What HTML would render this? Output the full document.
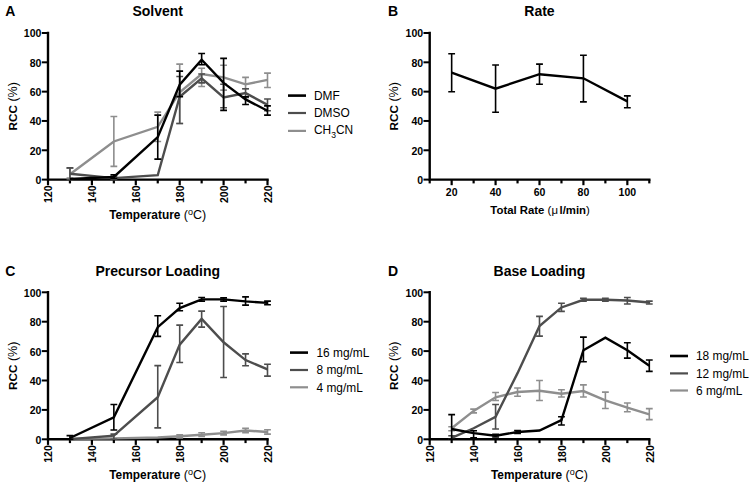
<!DOCTYPE html>
<html><head><meta charset="utf-8"><style>
html,body{margin:0;padding:0;background:#fff;}
svg{display:block;}
text{font-family:"Liberation Sans", sans-serif;fill:#000;}
.tk{font-size:10.5px;font-weight:bold;}
.ti{font-size:14px;font-weight:bold;}
.al{font-size:11.7px;font-weight:bold;}
.lg{font-size:11.9px;}
</style></head><body>
<svg width="754" height="487" viewBox="0 0 754 487">
<rect width="754" height="487" fill="#fff"/>
<path d="M48,33.0V179.6H267.5" fill="none" stroke="#000" stroke-width="2.4" stroke-linecap="square"/>
<path d="M41.8,179.60H48" stroke="#000" stroke-width="2"/>
<text x="41.4" y="184.00" text-anchor="end" class="tk">0</text>
<path d="M41.8,150.28H48" stroke="#000" stroke-width="2"/>
<text x="41.4" y="154.68" text-anchor="end" class="tk">20</text>
<path d="M41.8,120.96H48" stroke="#000" stroke-width="2"/>
<text x="41.4" y="125.36" text-anchor="end" class="tk">40</text>
<path d="M41.8,91.64H48" stroke="#000" stroke-width="2"/>
<text x="41.4" y="96.04" text-anchor="end" class="tk">60</text>
<path d="M41.8,62.32H48" stroke="#000" stroke-width="2"/>
<text x="41.4" y="66.72" text-anchor="end" class="tk">80</text>
<path d="M41.8,33.00H48" stroke="#000" stroke-width="2"/>
<text x="41.4" y="37.40" text-anchor="end" class="tk">100</text>
<path d="M48.00,179.6V185.2" stroke="#000" stroke-width="2.2"/>
<text transform="translate(52.40,185.5) rotate(-90)" text-anchor="end" class="tk">120</text>
<path d="M69.95,179.6V183.4" stroke="#000" stroke-width="2.2"/>
<path d="M91.90,179.6V185.2" stroke="#000" stroke-width="2.2"/>
<text transform="translate(96.30,185.5) rotate(-90)" text-anchor="end" class="tk">140</text>
<path d="M113.85,179.6V183.4" stroke="#000" stroke-width="2.2"/>
<path d="M135.80,179.6V185.2" stroke="#000" stroke-width="2.2"/>
<text transform="translate(140.20,185.5) rotate(-90)" text-anchor="end" class="tk">160</text>
<path d="M157.75,179.6V183.4" stroke="#000" stroke-width="2.2"/>
<path d="M179.70,179.6V185.2" stroke="#000" stroke-width="2.2"/>
<text transform="translate(184.10,185.5) rotate(-90)" text-anchor="end" class="tk">180</text>
<path d="M201.65,179.6V183.4" stroke="#000" stroke-width="2.2"/>
<path d="M223.60,179.6V185.2" stroke="#000" stroke-width="2.2"/>
<text transform="translate(228.00,185.5) rotate(-90)" text-anchor="end" class="tk">200</text>
<path d="M245.55,179.6V183.4" stroke="#000" stroke-width="2.2"/>
<path d="M267.50,179.6V185.2" stroke="#000" stroke-width="2.2"/>
<text transform="translate(271.90,185.5) rotate(-90)" text-anchor="end" class="tk">220</text>
<path d="M69.95,174.32 L113.85,141.48 L157.75,126.82 L179.70,92.23 L201.65,74.05 L223.60,77.42 L245.55,84.31 L267.50,79.91" fill="none" stroke="#8e8e8e" stroke-width="2.4" stroke-linejoin="miter" stroke-miterlimit="10"/>
<path d="M69.95,168.17V178.13M66.55,168.17H73.35M66.55,178.13H73.35" fill="none" stroke="#8e8e8e" stroke-width="1.6"/>
<path d="M113.85,116.56V166.41M110.45,116.56H117.25M110.45,166.41H117.25" fill="none" stroke="#8e8e8e" stroke-width="1.6"/>
<path d="M157.75,112.16V141.48M154.35,112.16H161.15M154.35,141.48H161.15" fill="none" stroke="#8e8e8e" stroke-width="1.6"/>
<path d="M179.70,64.08V123.45M176.30,64.08H183.10M176.30,123.45H183.10" fill="none" stroke="#8e8e8e" stroke-width="1.6"/>
<path d="M201.65,68.18V86.51M198.25,68.18H205.05M198.25,86.51H205.05" fill="none" stroke="#8e8e8e" stroke-width="1.6"/>
<path d="M223.60,65.25V90.17M220.20,65.25H227.00M220.20,90.17H227.00" fill="none" stroke="#8e8e8e" stroke-width="1.6"/>
<path d="M245.55,77.42V88.71M242.15,77.42H248.95M242.15,88.71H248.95" fill="none" stroke="#8e8e8e" stroke-width="1.6"/>
<path d="M267.50,73.17V87.54M264.10,73.17H270.90M264.10,87.54H270.90" fill="none" stroke="#8e8e8e" stroke-width="1.6"/>
<path d="M69.95,173.74 L113.85,178.13 L157.75,175.20 L179.70,96.77 L201.65,78.45 L223.60,97.50 L245.55,93.11 L267.50,104.83" fill="none" stroke="#4d4d4d" stroke-width="2.4" stroke-linejoin="miter" stroke-miterlimit="10"/>
<path d="M69.95,167.87V179.60M66.55,167.87H73.35M66.55,179.60H73.35" fill="none" stroke="#4d4d4d" stroke-width="1.6"/>
<path d="M113.85,176.67V179.60M110.45,176.67H117.25M110.45,179.60H117.25" fill="none" stroke="#4d4d4d" stroke-width="1.6"/>
<path d="M179.70,76.54V123.45M176.30,76.54H183.10M176.30,123.45H183.10" fill="none" stroke="#4d4d4d" stroke-width="1.6"/>
<path d="M201.65,74.05V82.84M198.25,74.05H205.05M198.25,82.84H205.05" fill="none" stroke="#4d4d4d" stroke-width="1.6"/>
<path d="M223.60,84.31V107.77M220.20,84.31H227.00M220.20,107.77H227.00" fill="none" stroke="#4d4d4d" stroke-width="1.6"/>
<path d="M245.55,88.71V97.50M242.15,88.71H248.95M242.15,97.50H248.95" fill="none" stroke="#4d4d4d" stroke-width="1.6"/>
<path d="M267.50,98.97V110.70M264.10,98.97H270.90M264.10,110.70H270.90" fill="none" stroke="#4d4d4d" stroke-width="1.6"/>
<path d="M69.95,178.87 L113.85,176.96 L157.75,137.09 L179.70,84.75 L201.65,59.68 L223.60,82.84 L245.55,99.41 L267.50,110.70" fill="none" stroke="#000" stroke-width="2.4" stroke-linejoin="miter" stroke-miterlimit="10"/>
<path d="M113.85,174.91V178.43M110.45,174.91H117.25M110.45,178.43H117.25" fill="none" stroke="#000" stroke-width="1.6"/>
<path d="M157.75,115.10V159.08M154.35,115.10H161.15M154.35,159.08H161.15" fill="none" stroke="#000" stroke-width="1.6"/>
<path d="M179.70,71.12V96.62M176.30,71.12H183.10M176.30,96.62H183.10" fill="none" stroke="#000" stroke-width="1.6"/>
<path d="M201.65,53.52V64.81M198.25,53.52H205.05M198.25,64.81H205.05" fill="none" stroke="#000" stroke-width="1.6"/>
<path d="M223.60,58.36V110.40M220.20,58.36H227.00M220.20,110.40H227.00" fill="none" stroke="#000" stroke-width="1.6"/>
<path d="M245.55,96.77V104.54M242.15,96.77H248.95M242.15,104.54H248.95" fill="none" stroke="#000" stroke-width="1.6"/>
<path d="M267.50,105.86V115.10M264.10,105.86H270.90M264.10,115.10H270.90" fill="none" stroke="#000" stroke-width="1.6"/>
<text x="157.75" y="15.8" text-anchor="middle" class="ti">Solvent</text>
<text x="5.2" y="15.8" class="ti">A</text>
<text transform="translate(16.5,106.30) rotate(-90)" text-anchor="middle" class="al">RCC<tspan font-weight="normal" font-size="12.5"> (%)</tspan></text>
<text x="157.75" y="218.8" text-anchor="middle" class="al"><tspan font-size="11.9">Temperature</tspan><tspan font-weight="normal" font-size="12.5"> (<tspan dy="-4.2" font-size="9">o</tspan><tspan dy="4.2">C)</tspan></tspan></text>
<path d="M288,95.6H306" stroke="#000" stroke-width="2.6"/>
<text x="314" y="99.90" class="lg">DMF</text>
<path d="M288,113H306" stroke="#4d4d4d" stroke-width="2.2"/>
<text x="314" y="117.20" class="lg">DMSO</text>
<path d="M288,130.9H306" stroke="#8e8e8e" stroke-width="2.2"/>
<text x="314" y="133.80" class="lg">CH<tspan dy="4" font-size="8.6">3</tspan><tspan dy="-4">CN</tspan></text>
<path d="M429.7,33.0V179.6H649.3" fill="none" stroke="#000" stroke-width="2.4" stroke-linecap="square"/>
<path d="M423.5,179.60H429.7" stroke="#000" stroke-width="2"/>
<text x="423.09999999999997" y="184.00" text-anchor="end" class="tk">0</text>
<path d="M423.5,150.28H429.7" stroke="#000" stroke-width="2"/>
<text x="423.09999999999997" y="154.68" text-anchor="end" class="tk">20</text>
<path d="M423.5,120.96H429.7" stroke="#000" stroke-width="2"/>
<text x="423.09999999999997" y="125.36" text-anchor="end" class="tk">40</text>
<path d="M423.5,91.64H429.7" stroke="#000" stroke-width="2"/>
<text x="423.09999999999997" y="96.04" text-anchor="end" class="tk">60</text>
<path d="M423.5,62.32H429.7" stroke="#000" stroke-width="2"/>
<text x="423.09999999999997" y="66.72" text-anchor="end" class="tk">80</text>
<path d="M423.5,33.00H429.7" stroke="#000" stroke-width="2"/>
<text x="423.09999999999997" y="37.40" text-anchor="end" class="tk">100</text>
<path d="M429.70,179.6V183.4" stroke="#000" stroke-width="2.2"/>
<path d="M451.66,179.6V185.2" stroke="#000" stroke-width="2.2"/>
<text x="451.66" y="195.9" text-anchor="middle" class="tk">20</text>
<path d="M473.62,179.6V183.4" stroke="#000" stroke-width="2.2"/>
<path d="M495.58,179.6V185.2" stroke="#000" stroke-width="2.2"/>
<text x="495.58" y="195.9" text-anchor="middle" class="tk">40</text>
<path d="M517.54,179.6V183.4" stroke="#000" stroke-width="2.2"/>
<path d="M539.50,179.6V185.2" stroke="#000" stroke-width="2.2"/>
<text x="539.50" y="195.9" text-anchor="middle" class="tk">60</text>
<path d="M561.46,179.6V183.4" stroke="#000" stroke-width="2.2"/>
<path d="M583.42,179.6V185.2" stroke="#000" stroke-width="2.2"/>
<text x="583.42" y="195.9" text-anchor="middle" class="tk">80</text>
<path d="M605.38,179.6V183.4" stroke="#000" stroke-width="2.2"/>
<path d="M627.34,179.6V185.2" stroke="#000" stroke-width="2.2"/>
<text x="627.34" y="195.9" text-anchor="middle" class="tk">100</text>
<path d="M649.30,179.6V183.4" stroke="#000" stroke-width="2.2"/>
<path d="M451.66,72.73 L495.58,88.71 L539.50,74.19 L583.42,78.30 L627.34,101.32" fill="none" stroke="#000" stroke-width="2.4" stroke-linejoin="miter" stroke-miterlimit="10"/>
<path d="M451.66,53.82V91.79M448.26,53.82H455.06M448.26,91.79H455.06" fill="none" stroke="#000" stroke-width="1.6"/>
<path d="M495.58,64.96V112.31M492.18,64.96H498.98M492.18,112.31H498.98" fill="none" stroke="#000" stroke-width="1.6"/>
<path d="M539.50,64.08V84.31M536.10,64.08H542.90M536.10,84.31H542.90" fill="none" stroke="#000" stroke-width="1.6"/>
<path d="M583.42,55.28V101.90M580.02,55.28H586.82M580.02,101.90H586.82" fill="none" stroke="#000" stroke-width="1.6"/>
<path d="M627.34,95.89V107.77M623.94,95.89H630.74M623.94,107.77H630.74" fill="none" stroke="#000" stroke-width="1.6"/>
<text x="539.50" y="15.8" text-anchor="middle" class="ti">Rate</text>
<text x="388.1" y="15.8" class="ti">B</text>
<text transform="translate(398.2,106.30) rotate(-90)" text-anchor="middle" class="al">RCC<tspan font-weight="normal" font-size="12.5"> (%)</tspan></text>
<text x="540.10" y="214.2" text-anchor="middle" class="al" textLength="99.5" lengthAdjust="spacingAndGlyphs">Total Rate <tspan font-weight="normal">(&#956;</tspan><tspan dx="1.6">l/min</tspan><tspan font-weight="normal">)</tspan></text>
<path d="M48,292.3V439.3H267.5" fill="none" stroke="#000" stroke-width="2.4" stroke-linecap="square"/>
<path d="M41.8,439.30H48" stroke="#000" stroke-width="2"/>
<text x="41.4" y="443.70" text-anchor="end" class="tk">0</text>
<path d="M41.8,409.90H48" stroke="#000" stroke-width="2"/>
<text x="41.4" y="414.30" text-anchor="end" class="tk">20</text>
<path d="M41.8,380.50H48" stroke="#000" stroke-width="2"/>
<text x="41.4" y="384.90" text-anchor="end" class="tk">40</text>
<path d="M41.8,351.10H48" stroke="#000" stroke-width="2"/>
<text x="41.4" y="355.50" text-anchor="end" class="tk">60</text>
<path d="M41.8,321.70H48" stroke="#000" stroke-width="2"/>
<text x="41.4" y="326.10" text-anchor="end" class="tk">80</text>
<path d="M41.8,292.30H48" stroke="#000" stroke-width="2"/>
<text x="41.4" y="296.70" text-anchor="end" class="tk">100</text>
<path d="M48.00,439.3V444.90000000000003" stroke="#000" stroke-width="2.2"/>
<text transform="translate(52.40,445.2) rotate(-90)" text-anchor="end" class="tk">120</text>
<path d="M69.95,439.3V443.1" stroke="#000" stroke-width="2.2"/>
<path d="M91.90,439.3V444.90000000000003" stroke="#000" stroke-width="2.2"/>
<text transform="translate(96.30,445.2) rotate(-90)" text-anchor="end" class="tk">140</text>
<path d="M113.85,439.3V443.1" stroke="#000" stroke-width="2.2"/>
<path d="M135.80,439.3V444.90000000000003" stroke="#000" stroke-width="2.2"/>
<text transform="translate(140.20,445.2) rotate(-90)" text-anchor="end" class="tk">160</text>
<path d="M157.75,439.3V443.1" stroke="#000" stroke-width="2.2"/>
<path d="M179.70,439.3V444.90000000000003" stroke="#000" stroke-width="2.2"/>
<text transform="translate(184.10,445.2) rotate(-90)" text-anchor="end" class="tk">180</text>
<path d="M201.65,439.3V443.1" stroke="#000" stroke-width="2.2"/>
<path d="M223.60,439.3V444.90000000000003" stroke="#000" stroke-width="2.2"/>
<text transform="translate(228.00,445.2) rotate(-90)" text-anchor="end" class="tk">200</text>
<path d="M245.55,439.3V443.1" stroke="#000" stroke-width="2.2"/>
<path d="M267.50,439.3V444.90000000000003" stroke="#000" stroke-width="2.2"/>
<text transform="translate(271.90,445.2) rotate(-90)" text-anchor="end" class="tk">220</text>
<path d="M69.95,438.86 L113.85,438.42 L157.75,437.54 L179.70,436.21 L201.65,434.74 L223.60,433.13 L245.55,430.48 L267.50,431.95" fill="none" stroke="#8e8e8e" stroke-width="2.4" stroke-linejoin="miter" stroke-miterlimit="10"/>
<path d="M179.70,434.89V437.83M176.30,434.89H183.10M176.30,437.83H183.10" fill="none" stroke="#8e8e8e" stroke-width="1.6"/>
<path d="M201.65,432.69V436.36M198.25,432.69H205.05M198.25,436.36H205.05" fill="none" stroke="#8e8e8e" stroke-width="1.6"/>
<path d="M223.60,431.22V434.89M220.20,431.22H227.00M220.20,434.89H227.00" fill="none" stroke="#8e8e8e" stroke-width="1.6"/>
<path d="M245.55,428.28V432.69M242.15,428.28H248.95M242.15,432.69H248.95" fill="none" stroke="#8e8e8e" stroke-width="1.6"/>
<path d="M267.50,429.75V434.16M264.10,429.75H270.90M264.10,434.16H270.90" fill="none" stroke="#8e8e8e" stroke-width="1.6"/>
<path d="M69.95,439.30 L113.85,435.62 L157.75,397.26 L179.70,344.63 L201.65,318.91 L223.60,342.28 L245.55,360.07 L267.50,369.33" fill="none" stroke="#4d4d4d" stroke-width="2.4" stroke-linejoin="miter" stroke-miterlimit="10"/>
<path d="M113.85,434.16V439.30M110.45,434.16H117.25M110.45,439.30H117.25" fill="none" stroke="#4d4d4d" stroke-width="1.6"/>
<path d="M157.75,365.65V427.83M154.35,365.65H161.15M154.35,427.83H161.15" fill="none" stroke="#4d4d4d" stroke-width="1.6"/>
<path d="M179.70,325.08V362.57M176.30,325.08H183.10M176.30,362.57H183.10" fill="none" stroke="#4d4d4d" stroke-width="1.6"/>
<path d="M201.65,311.12V327.14M198.25,311.12H205.05M198.25,327.14H205.05" fill="none" stroke="#4d4d4d" stroke-width="1.6"/>
<path d="M223.60,306.56V377.56M220.20,306.56H227.00M220.20,377.56H227.00" fill="none" stroke="#4d4d4d" stroke-width="1.6"/>
<path d="M245.55,353.89V365.80M242.15,353.89H248.95M242.15,365.80H248.95" fill="none" stroke="#4d4d4d" stroke-width="1.6"/>
<path d="M267.50,364.18V376.09M264.10,364.18H270.90M264.10,376.09H270.90" fill="none" stroke="#4d4d4d" stroke-width="1.6"/>
<path d="M69.95,437.98 L113.85,417.25 L157.75,327.14 L179.70,308.03 L201.65,299.36 L223.60,299.36 L245.55,301.41 L267.50,302.88" fill="none" stroke="#000" stroke-width="2.4" stroke-linejoin="miter" stroke-miterlimit="10"/>
<path d="M69.95,435.62V439.30M66.55,435.62H73.35M66.55,439.30H73.35" fill="none" stroke="#000" stroke-width="1.6"/>
<path d="M113.85,404.46V430.04M110.45,404.46H117.25M110.45,430.04H117.25" fill="none" stroke="#000" stroke-width="1.6"/>
<path d="M157.75,315.82V336.40M154.35,315.82H161.15M154.35,336.40H161.15" fill="none" stroke="#000" stroke-width="1.6"/>
<path d="M179.70,303.18V310.68M176.30,303.18H183.10M176.30,310.68H183.10" fill="none" stroke="#000" stroke-width="1.6"/>
<path d="M201.65,297.45V301.12M198.25,297.45H205.05M198.25,301.12H205.05" fill="none" stroke="#000" stroke-width="1.6"/>
<path d="M223.60,297.89V301.12M220.20,297.89H227.00M220.20,301.12H227.00" fill="none" stroke="#000" stroke-width="1.6"/>
<path d="M245.55,296.86V305.09M242.15,296.86H248.95M242.15,305.09H248.95" fill="none" stroke="#000" stroke-width="1.6"/>
<path d="M267.50,301.12V304.80M264.10,301.12H270.90M264.10,304.80H270.90" fill="none" stroke="#000" stroke-width="1.6"/>
<text x="157.75" y="275.5" text-anchor="middle" class="ti">Precursor Loading</text>
<text x="5.2" y="275.5" class="ti">C</text>
<text transform="translate(16.5,365.80) rotate(-90)" text-anchor="middle" class="al">RCC<tspan font-weight="normal" font-size="12.5"> (%)</tspan></text>
<text x="157.75" y="479.0" text-anchor="middle" class="al"><tspan font-size="11.9">Temperature</tspan><tspan font-weight="normal" font-size="12.5"> (<tspan dy="-4.2" font-size="9">o</tspan><tspan dy="4.2">C)</tspan></tspan></text>
<path d="M290,352.6H308" stroke="#000" stroke-width="2.6"/>
<text x="316.5" y="356.80" class="lg">16 mg/mL</text>
<path d="M290,370H308" stroke="#4d4d4d" stroke-width="2.2"/>
<text x="316.5" y="374.20" class="lg">8 mg/mL</text>
<path d="M290,387.3H308" stroke="#8e8e8e" stroke-width="2.2"/>
<text x="316.5" y="391.50" class="lg">4 mg/mL</text>
<path d="M429.7,292.3V439.3H649.3" fill="none" stroke="#000" stroke-width="2.4" stroke-linecap="square"/>
<path d="M423.5,439.30H429.7" stroke="#000" stroke-width="2"/>
<text x="423.09999999999997" y="443.70" text-anchor="end" class="tk">0</text>
<path d="M423.5,409.90H429.7" stroke="#000" stroke-width="2"/>
<text x="423.09999999999997" y="414.30" text-anchor="end" class="tk">20</text>
<path d="M423.5,380.50H429.7" stroke="#000" stroke-width="2"/>
<text x="423.09999999999997" y="384.90" text-anchor="end" class="tk">40</text>
<path d="M423.5,351.10H429.7" stroke="#000" stroke-width="2"/>
<text x="423.09999999999997" y="355.50" text-anchor="end" class="tk">60</text>
<path d="M423.5,321.70H429.7" stroke="#000" stroke-width="2"/>
<text x="423.09999999999997" y="326.10" text-anchor="end" class="tk">80</text>
<path d="M423.5,292.30H429.7" stroke="#000" stroke-width="2"/>
<text x="423.09999999999997" y="296.70" text-anchor="end" class="tk">100</text>
<path d="M429.70,439.3V444.90000000000003" stroke="#000" stroke-width="2.2"/>
<text transform="translate(434.10,445.2) rotate(-90)" text-anchor="end" class="tk">120</text>
<path d="M451.66,439.3V443.1" stroke="#000" stroke-width="2.2"/>
<path d="M473.62,439.3V444.90000000000003" stroke="#000" stroke-width="2.2"/>
<text transform="translate(478.02,445.2) rotate(-90)" text-anchor="end" class="tk">140</text>
<path d="M495.58,439.3V443.1" stroke="#000" stroke-width="2.2"/>
<path d="M517.54,439.3V444.90000000000003" stroke="#000" stroke-width="2.2"/>
<text transform="translate(521.94,445.2) rotate(-90)" text-anchor="end" class="tk">160</text>
<path d="M539.50,439.3V443.1" stroke="#000" stroke-width="2.2"/>
<path d="M561.46,439.3V444.90000000000003" stroke="#000" stroke-width="2.2"/>
<text transform="translate(565.86,445.2) rotate(-90)" text-anchor="end" class="tk">180</text>
<path d="M583.42,439.3V443.1" stroke="#000" stroke-width="2.2"/>
<path d="M605.38,439.3V444.90000000000003" stroke="#000" stroke-width="2.2"/>
<text transform="translate(609.78,445.2) rotate(-90)" text-anchor="end" class="tk">200</text>
<path d="M627.34,439.3V443.1" stroke="#000" stroke-width="2.2"/>
<path d="M649.30,439.3V444.90000000000003" stroke="#000" stroke-width="2.2"/>
<text transform="translate(653.70,445.2) rotate(-90)" text-anchor="end" class="tk">220</text>
<path d="M451.66,428.28 L473.62,410.93 L495.58,397.26 L517.54,391.97 L539.50,390.79 L561.46,393.73 L583.42,391.08 L605.38,400.35 L627.34,407.69 L649.30,414.31" fill="none" stroke="#8e8e8e" stroke-width="2.4" stroke-linejoin="miter" stroke-miterlimit="10"/>
<path d="M451.66,426.81V430.77M448.26,426.81H455.06M448.26,430.77H455.06" fill="none" stroke="#8e8e8e" stroke-width="1.6"/>
<path d="M473.62,409.17V412.84M470.22,409.17H477.02M470.22,412.84H477.02" fill="none" stroke="#8e8e8e" stroke-width="1.6"/>
<path d="M495.58,392.55V400.49M492.18,392.55H498.98M492.18,400.49H498.98" fill="none" stroke="#8e8e8e" stroke-width="1.6"/>
<path d="M517.54,388.00V396.23M514.14,388.00H520.94M514.14,396.23H520.94" fill="none" stroke="#8e8e8e" stroke-width="1.6"/>
<path d="M539.50,380.50V400.49M536.10,380.50H542.90M536.10,400.49H542.90" fill="none" stroke="#8e8e8e" stroke-width="1.6"/>
<path d="M561.46,389.76V396.96M558.06,389.76H564.86M558.06,396.96H564.86" fill="none" stroke="#8e8e8e" stroke-width="1.6"/>
<path d="M583.42,384.91V396.96M580.02,384.91H586.82M580.02,396.96H586.82" fill="none" stroke="#8e8e8e" stroke-width="1.6"/>
<path d="M605.38,392.11V408.43M601.98,392.11H608.78M601.98,408.43H608.78" fill="none" stroke="#8e8e8e" stroke-width="1.6"/>
<path d="M627.34,402.99V411.81M623.94,402.99H630.74M623.94,411.81H630.74" fill="none" stroke="#8e8e8e" stroke-width="1.6"/>
<path d="M649.30,408.58V419.60M645.90,408.58H652.70M645.90,419.60H652.70" fill="none" stroke="#8e8e8e" stroke-width="1.6"/>
<path d="M451.66,437.83 L473.62,428.28 L495.58,416.81 L517.54,373.15 L539.50,326.11 L561.46,307.44 L583.42,299.80 L605.38,299.80 L627.34,300.53 L649.30,302.44" fill="none" stroke="#4d4d4d" stroke-width="2.4" stroke-linejoin="miter" stroke-miterlimit="10"/>
<path d="M451.66,435.77V439.30M448.26,435.77H455.06M448.26,439.30H455.06" fill="none" stroke="#4d4d4d" stroke-width="1.6"/>
<path d="M495.58,404.46V429.01M492.18,404.46H498.98M492.18,429.01H498.98" fill="none" stroke="#4d4d4d" stroke-width="1.6"/>
<path d="M539.50,316.41V336.11M536.10,316.41H542.90M536.10,336.11H542.90" fill="none" stroke="#4d4d4d" stroke-width="1.6"/>
<path d="M561.46,303.18V311.41M558.06,303.18H564.86M558.06,311.41H564.86" fill="none" stroke="#4d4d4d" stroke-width="1.6"/>
<path d="M583.42,298.18V301.12M580.02,298.18H586.82M580.02,301.12H586.82" fill="none" stroke="#4d4d4d" stroke-width="1.6"/>
<path d="M605.38,298.18V301.12M601.98,298.18H608.78M601.98,301.12H608.78" fill="none" stroke="#4d4d4d" stroke-width="1.6"/>
<path d="M627.34,297.45V304.06M623.94,297.45H630.74M623.94,304.06H630.74" fill="none" stroke="#4d4d4d" stroke-width="1.6"/>
<path d="M649.30,301.12V304.06M645.90,301.12H652.70M645.90,304.06H652.70" fill="none" stroke="#4d4d4d" stroke-width="1.6"/>
<path d="M451.66,429.01 L473.62,433.13 L495.58,435.77 L517.54,431.95 L539.50,430.48 L561.46,420.19 L583.42,350.22 L605.38,337.72 L627.34,350.22 L649.30,365.80" fill="none" stroke="#000" stroke-width="2.4" stroke-linejoin="miter" stroke-miterlimit="10"/>
<path d="M451.66,414.60V439.30M448.26,414.60H455.06M448.26,439.30H455.06" fill="none" stroke="#000" stroke-width="1.6"/>
<path d="M473.62,430.77V437.83M470.22,430.77H477.02M470.22,437.83H477.02" fill="none" stroke="#000" stroke-width="1.6"/>
<path d="M495.58,434.30V436.95M492.18,434.30H498.98M492.18,436.95H498.98" fill="none" stroke="#000" stroke-width="1.6"/>
<path d="M517.54,430.48V433.42M514.14,430.48H520.94M514.14,433.42H520.94" fill="none" stroke="#000" stroke-width="1.6"/>
<path d="M561.46,416.81V425.04M558.06,416.81H564.86M558.06,425.04H564.86" fill="none" stroke="#000" stroke-width="1.6"/>
<path d="M583.42,337.13V361.68M580.02,337.13H586.82M580.02,361.68H586.82" fill="none" stroke="#000" stroke-width="1.6"/>
<path d="M627.34,342.72V358.16M623.94,342.72H630.74M623.94,358.16H630.74" fill="none" stroke="#000" stroke-width="1.6"/>
<path d="M649.30,360.07V371.39M645.90,360.07H652.70M645.90,371.39H652.70" fill="none" stroke="#000" stroke-width="1.6"/>
<text x="539.50" y="275.5" text-anchor="middle" class="ti">Base Loading</text>
<text x="388.1" y="275.5" class="ti">D</text>
<text transform="translate(398.2,365.80) rotate(-90)" text-anchor="middle" class="al">RCC<tspan font-weight="normal" font-size="12.5"> (%)</tspan></text>
<text x="539.50" y="479.0" text-anchor="middle" class="al"><tspan font-size="11.9">Temperature</tspan><tspan font-weight="normal" font-size="12.5"> (<tspan dy="-4.2" font-size="9">o</tspan><tspan dy="4.2">C)</tspan></tspan></text>
<path d="M670,356H688" stroke="#000" stroke-width="2.6"/>
<text x="696" y="360.20" class="lg">18 mg/mL</text>
<path d="M670,373.4H688" stroke="#4d4d4d" stroke-width="2.2"/>
<text x="696" y="377.60" class="lg">12 mg/mL</text>
<path d="M670,390.5H688" stroke="#8e8e8e" stroke-width="2.2"/>
<text x="696" y="394.70" class="lg">6 mg/mL</text>
</svg>
</body></html>
